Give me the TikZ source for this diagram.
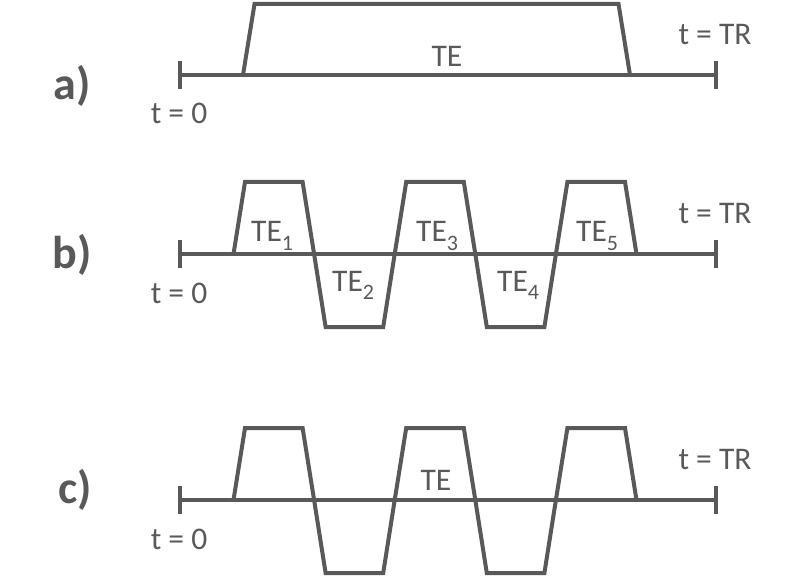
\documentclass[tikz,border=0pt]{standalone}
\usepackage{fontspec}
\setmainfont{Carlito}
\definecolor{gc}{HTML}{595959}
\begin{document}
\begin{tikzpicture}[x=1pt,y=-1pt,
  wv/.style={draw=gc, line width=4pt},
  lbl/.style={text=gc, font=\fontsize{31.5}{36}\selectfont, inner sep=0pt},
  panel/.style={text=gc, font=\fontsize{46}{50}\selectfont\bfseries, inner sep=0pt}]
\newcommand{\sbs}[1]{\raisebox{-0.28em}{\fontsize{22}{24}\selectfont #1}}
\useasboundingbox (0,0) rectangle (789,577);

% ---------- panel a ----------
\begin{scope}[shift={(0,75)}]
  \draw[wv] (180,0) -- (716,0);
  \draw[wv] (180,-14) -- (180,14);
  \draw[wv] (716,-14) -- (716,14);
  \draw[wv] (243,0) -- (254.5,-71) -- (618.5,-71) -- (630,0);
\end{scope}
\node[panel] (la) at (72,86) {a)};
\node[lbl] (a0) at (179,113) {t = 0};
\node[lbl] (atr) at (715,35) {t = TR};
\node[lbl, anchor=base] (ate) at (447,67) {TE};

% ---------- panels b and c ----------
\foreach \yy in {254,500}{
\begin{scope}[shift={(0,\yy)}]
  \draw[wv] (180,0) -- (716,0);
  \draw[wv] (180,-14) -- (180,14);
  \draw[wv] (716,-14) -- (716,14);
  \draw[wv] (233.5,0) -- (245,-72) -- (302.6,-72) -- (314.1,0) -- (325.6,73)
     -- (383.2,73) -- (394.7,0) -- (406.2,-72) -- (463.8,-72) -- (475.3,0)
     -- (486.8,73) -- (544.4,73) -- (555.9,0) -- (567.4,-72) -- (625,-72)
     -- (636.5,0);
\end{scope}
}

\node[panel] (lb) at (72,255) {b)};
\node[lbl] (b0) at (179,293) {t = 0};
\node[lbl] (btr) at (715,214) {t = TR};
\node[lbl, anchor=base west] (te1) at (251,242) {TE\sbs{1}};
\node[lbl, anchor=base west] (te2) at (332,291) {TE\sbs{2}};
\node[lbl, anchor=base west] (te3) at (416,242) {TE\sbs{3}};
\node[lbl, anchor=base west] (te4) at (497,291) {TE\sbs{4}};
\node[lbl, anchor=base west] (te5) at (576,242) {TE\sbs{5}};

\node[panel] (lc) at (75,490) {c)};
\node[lbl] (c0) at (179,539) {t = 0};
\node[lbl] (ctr) at (715,460) {t = TR};
\node[lbl, anchor=base] (cte) at (436,490) {TE};
\end{tikzpicture}
\end{document}
